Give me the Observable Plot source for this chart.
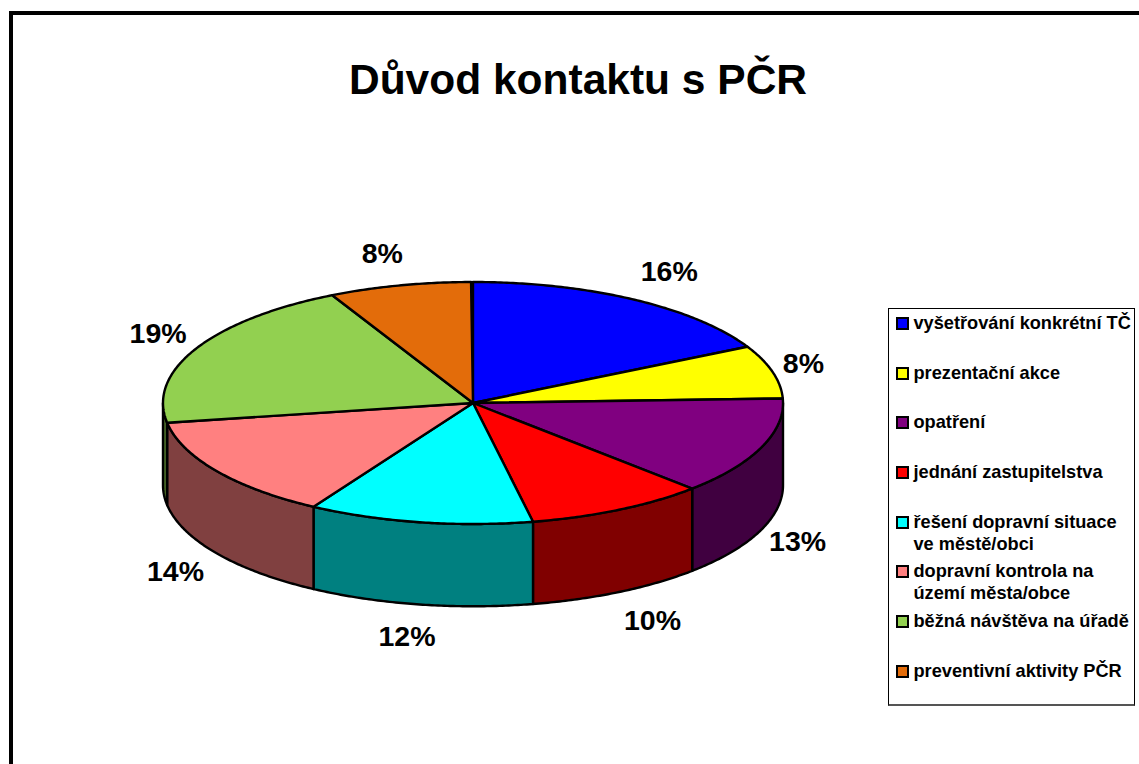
<!DOCTYPE html>
<html lang="cs"><head><meta charset="utf-8">
<script src="https://cdn.jsdelivr.net/npm/d3@7"></script>
<script src="https://cdn.jsdelivr.net/npm/@observablehq/plot@0.6"></script>
<style>
html,body{margin:0;padding:0;background:#fff;overflow:hidden;width:1139px;height:764px;font-family:"Liberation Sans",Arial,sans-serif;color:#000}
#frame{position:absolute;left:9px;top:11px;width:1130px;height:753px;border-left:4px solid #000;border-top:4px solid #000;box-sizing:border-box}
#title{position:absolute;left:0;top:55px;width:1156px;text-align:center;font-size:42.5px;line-height:50px;font-weight:bold;margin:0}
#chart{position:absolute;left:0;top:0}
#legend{position:absolute;left:888px;top:308px;width:247px;height:398px;box-sizing:border-box;border:1px solid #000;border-bottom:2px solid #555;background:#fff;padding-top:3px}
.row{height:49.7px;position:relative;font-size:18.2px;line-height:22px;font-weight:bold;padding-left:24.5px;box-sizing:border-box;white-space:nowrap}
.sw{position:absolute;left:7px;top:5px;width:9px;height:9px;border:2px solid #000}
</style></head><body>
<div id="frame"></div>
<div id="chart"></div>
<h1 id="title">Důvod kontaktu s PČR</h1>
<div id="legend"></div>
<script>
const categories = ["vyšetřování konkrétní TČ","prezentační akce","opatření","jednání zastupitelstva","řešení dopravní situace\nve městě/obci","dopravní kontrola na\núzemí města/obce","běžná návštěva na úřadě","preventivní aktivity PČR"];
const percentLabels = ["16%","8%","13%","10%","12%","14%","19%","8%"];
// Slice shares as drawn in the picture (percent of the turn)
const drawnShares = [17.3,7.1,13.1,9.4,11.7,13.8,20.1,7.4];
const topColors = ["#0000FF","#FFFF00","#800080","#FF0000","#00FFFF","#FF8080","#92D050","#E36C0A"];
const sideColors = ["#000080","#808000","#400040","#800000","#008080","#804040","#496828","#71360A"];

const depth = 0.68;
const toXY = a => [Math.sin(a), -Math.cos(a)];
let start = 0;
const slices = drawnShares.map((s,i)=>{
  const a0 = start/100*2*Math.PI; start += s;
  return {i, a0, a1: start/100*2*Math.PI};
});
const sample = (a0,a1)=>{const n=Math.max(2,Math.ceil((a1-a0)/0.01));return d3.range(n+1).map(k=>a0+(a1-a0)*k/n)};
const topPts = slices.flatMap(s=>sample(s.a0,s.a1).map(a=>{const [x,y]=toXY(a);return {i:s.i,x,y,color:topColors[s.i]}}));
const wallPts = slices.flatMap(s=>{
  const a0=Math.max(s.a0,Math.PI/2), a1=Math.min(s.a1,3*Math.PI/2);
  if(a1<=a0) return [];
  return sample(a0,a1).map(a=>{const [x,y]=toXY(a);return {i:s.i,x,y,y2:y+depth,color:sideColors[s.i]}});
});
const labels = slices.map((s,i)=>{
  const m=(s.a0+s.a1)/2,[x,y]=toXY(m),c=Math.abs(Math.cos(m));
  return {t:percentLabels[i],x:x*(1.05+0.2*c),y:y*1.27+(Math.cos(m)<0?depth:0)};
});

const plot = Plot.plot({
  width:1139,height:764,margin:0,
  x:{domain:[-1,1],range:[163,783],axis:null},
  y:{domain:[-1,1],range:[282,524],axis:null},
  marks:[
    Plot.area(wallPts,{x1:"x",y1:"y",x2:"x",y2:"y2",z:"i",fill:"color",stroke:"#000",strokeWidth:2.4,strokeLinejoin:"round"}),
    Plot.area(topPts,{x1:()=>0,y1:()=>0,x2:"x",y2:"y",z:"i",fill:"color",stroke:"#000",strokeWidth:2.4,strokeLinejoin:"round"}),
    Plot.text(labels,{x:"x",y:"y",text:"t",fontSize:28.5,fontWeight:"bold",fontFamily:"Liberation Sans",fill:"#000"})
  ]
});
plot.style.background="transparent";
document.getElementById("chart").append(plot);

const legend=document.getElementById("legend");
categories.forEach((c,i)=>{
  const row=document.createElement("div");row.className="row";
  const sw=document.createElement("span");sw.className="sw";sw.style.background=topColors[i];
  row.append(sw);
  c.split("\n").forEach(l=>{const d=document.createElement("div");d.textContent=l;row.append(d)});
  legend.append(row);
});
</script>
</body></html>
